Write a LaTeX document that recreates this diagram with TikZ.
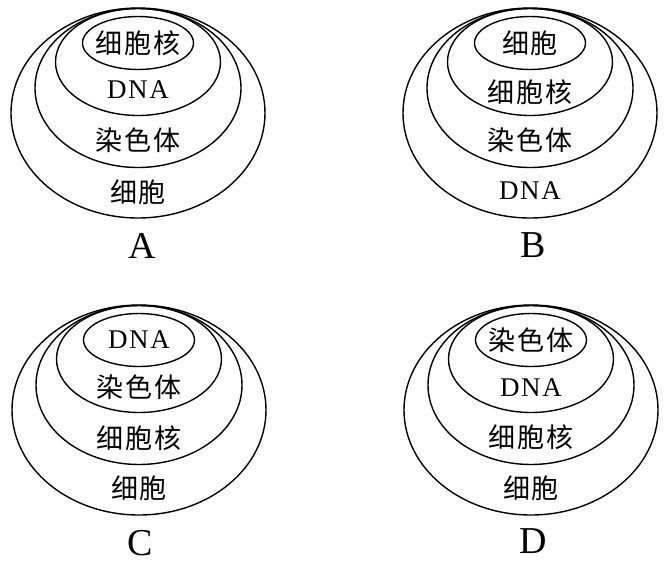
\documentclass[tikz,border=0pt]{standalone}
\usepackage{fontspec}
\setmainfont{Liberation Serif}
\newfontfamily\cjk[LetterSpace=6]{Noto Sans CJK SC}
\tikzset{
  ring/.style={draw=black, line width=1.4pt},
  cn/.style={font=\cjk\fontsize{27}{27}\selectfont, inner sep=0pt, anchor=center},
  en/.style={font=\fontsize{27}{27}\selectfont\addfontfeature{LetterSpace=6}, inner sep=0pt, anchor=center},
  letter/.style={font=\fontsize{38}{38}\selectfont, inner sep=0pt, anchor=center}
}
\newcommand\mypanel[7]{%
  \draw[ring] (#1,#2+105) ellipse [x radius=127, y radius=105];
  \draw[ring] (#1,#2+80) ellipse [x radius=103, y radius=79.5];
  \draw[ring] (#1,#2+54) ellipse [x radius=82.5, y radius=53.5];
  \draw[ring] (#1,#2+35) ellipse [x radius=55.5, y radius=26.5];
  \node[#3] (#7-a) at (#1,#2+35) {#4};
}
\begin{document}
\begin{tikzpicture}[x=1pt,y=-1pt]
\useasboundingbox (0,0) rectangle (664,563);
% A
\mypanel{138}{8}{cn}{细胞核}{}{}{A}
\node[en] (A-b) at (138,90) {DNA};
\node[cn] (A-c) at (138,140) {染色体};
\node[cn] (A-d) at (138,192) {细胞};
\node[letter] (A-l) at (142,246) {A};
% B
\mypanel{530}{8}{cn}{细胞}{}{}{B}
\node[cn] (B-b) at (530,92) {细胞核};
\node[cn] (B-c) at (530,140) {染色体};
\node[en] (B-d) at (530,191) {DNA};
\node[letter] (B-l) at (533,245) {B};
% C
\mypanel{139}{305}{en}{DNA}{}{}{C}
\node[cn] (C-b) at (139,387) {染色体};
\node[cn] (C-c) at (139,438) {细胞核};
\node[cn] (C-d) at (139,488) {细胞};
\node[letter] (C-l) at (140,543) {C};
% D
\mypanel{531}{305}{cn}{染色体}{}{}{D}
\node[en] (D-b) at (531,388) {DNA};
\node[cn] (D-c) at (531,437) {细胞核};
\node[cn] (D-d) at (531,488) {细胞};
\node[letter] (D-l) at (533,541) {D};
\end{tikzpicture}
\end{document}
